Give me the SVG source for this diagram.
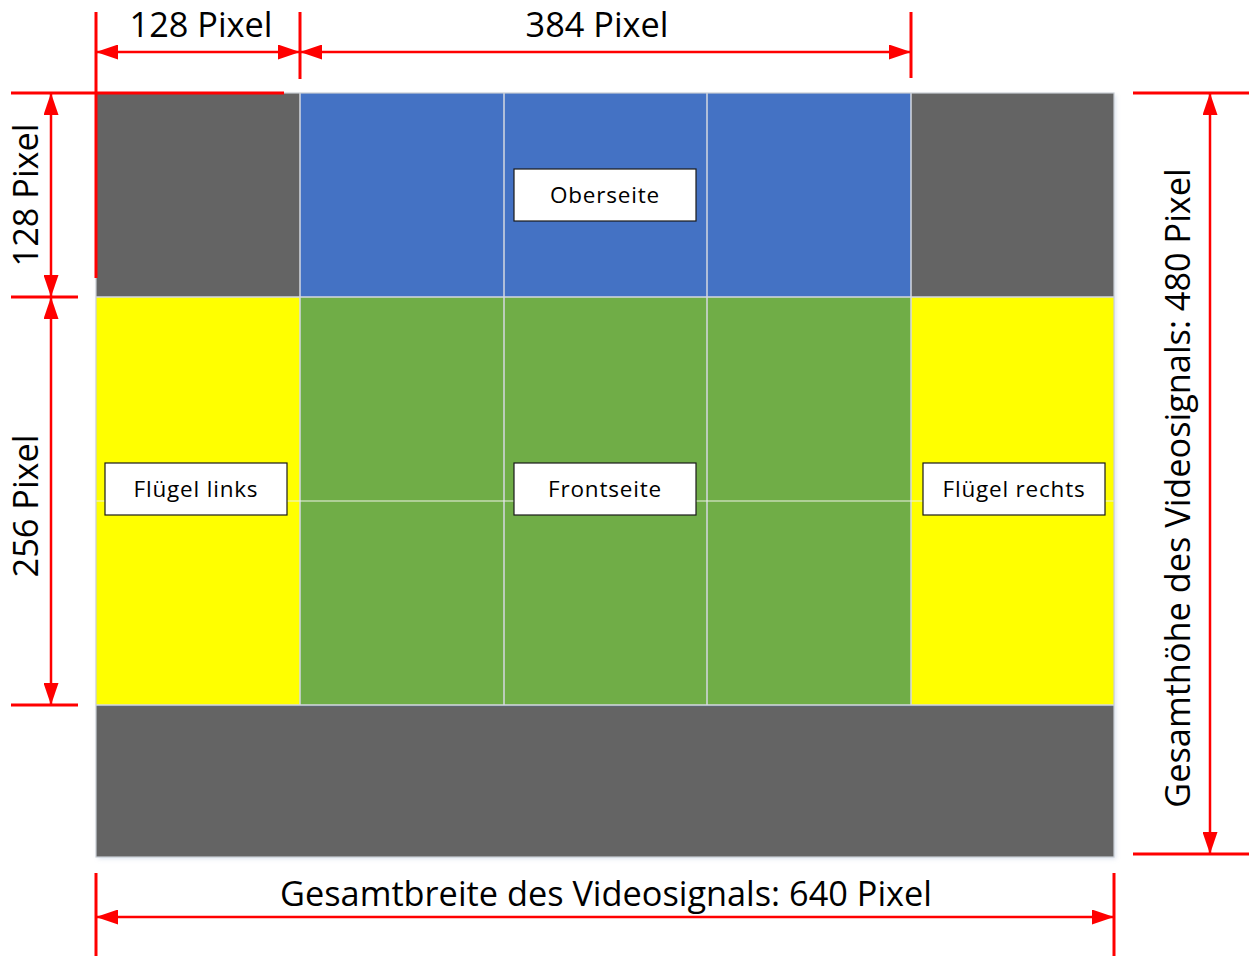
<svg xmlns="http://www.w3.org/2000/svg" width="1249" height="956" viewBox="0 0 1249 956">
<style>
.dim{stroke:#FF0000;stroke-width:2.5;fill:none}
.ext{stroke:#FF0000;stroke-width:3;fill:none}
.grid{stroke:#d4d9e0;stroke-width:1.5;fill:none}
.big{font-family:"Open Sans","Liberation Sans",sans-serif;font-size:34.3px;fill:#000}
.lbl{font-family:"Open Sans","Liberation Sans",sans-serif;font-size:22.5px;letter-spacing:0.8px;fill:#000;text-anchor:middle}
.box{fill:#fff;stroke:#1a1a1a;stroke-width:1.2}
</style>
<defs>
<marker id="ah" viewBox="0 0 22 15" refX="22" refY="7.5" markerWidth="22" markerHeight="15" markerUnits="userSpaceOnUse" orient="auto-start-reverse">
<path d="M0,0 L22,7.5 L0,15 z" fill="#FF0000"/>
</marker>
<filter id="sh" x="-5%" y="-5%" width="110%" height="110%">
<feDropShadow dx="2" dy="2" stdDeviation="2" flood-color="#9fb3d0" flood-opacity="0.35"/>
</filter>
</defs>
<rect width="1249" height="956" fill="#fff"/>

<g id="canvas" filter="url(#sh)">
<rect x="96" y="93" width="1018" height="764" fill="#646464"/>
</g>
<g id="corner-tl"><rect x="96" y="93" width="204" height="204" fill="#646464"/></g>
<g id="corner-tr"><rect x="911" y="93" width="203" height="204" fill="#646464"/></g>
<g id="oberseite">
<rect x="300" y="93" width="611" height="204" fill="#4472C4"/>
</g>
<g id="fluegel-links"><rect x="96" y="297" width="204" height="408" fill="#FFFF00"/></g>
<g id="frontseite"><rect x="300" y="297" width="611" height="408" fill="#70AD47"/></g>
<g id="fluegel-rechts"><rect x="911" y="297" width="203" height="408" fill="#FFFF00"/></g>
<g id="bottom-band"><rect x="96" y="705" width="1018" height="152" fill="#646464"/>
<line x1="96" y1="706" x2="1114" y2="706" stroke="#5e6774" stroke-width="2"/></g>

<g id="gridlines">
<line class="grid" x1="300" y1="93" x2="300" y2="705"/>
<line class="grid" x1="504" y1="93" x2="504" y2="705"/>
<line class="grid" x1="707" y1="93" x2="707" y2="705"/>
<line class="grid" x1="911" y1="93" x2="911" y2="705"/>
<line class="grid" x1="96" y1="297" x2="1114" y2="297"/>
<line x1="96" y1="501" x2="1114" y2="501" stroke="#eef2e8" stroke-width="1"/>
<line class="grid" x1="96" y1="705" x2="1114" y2="705"/>
<rect x="96" y="93" width="1018" height="764" fill="none" stroke="#c8cdd4" stroke-width="1.2"/>
</g>

<g id="label-oberseite"><rect class="box" x="514" y="169" width="182" height="52"/><text class="lbl" x="605" y="203">Oberseite</text></g>
<g id="label-fluegel-links"><rect class="box" x="105" y="463" width="182" height="52"/><text class="lbl" x="196" y="497">Flügel links</text></g>
<g id="label-frontseite"><rect class="box" x="514" y="463" width="182" height="52"/><text class="lbl" x="605" y="497">Frontseite</text></g>
<g id="label-fluegel-rechts"><rect class="box" x="923" y="463" width="182" height="52"/><text class="lbl" x="1014" y="497">Flügel rechts</text></g>

<g id="connectors">
<line class="ext" x1="96" y1="12" x2="96" y2="278"/>
<line class="ext" x1="300" y1="12" x2="300" y2="79"/>
<line class="ext" x1="911" y1="12" x2="911" y2="78"/>
<line class="ext" x1="11" y1="93" x2="284" y2="93"/>
<line class="ext" x1="11" y1="297" x2="78" y2="297"/>
<line class="ext" x1="11" y1="705" x2="78" y2="705"/>
<line class="ext" x1="1133" y1="93" x2="1249" y2="93"/>
<line class="ext" x1="1133" y1="854" x2="1249" y2="854"/>
<line class="ext" x1="96" y1="873" x2="96" y2="956"/>
<line class="ext" x1="1114" y1="873" x2="1114" y2="956"/>
<line class="dim" x1="96" y1="52" x2="300" y2="52" marker-start="url(#ah)" marker-end="url(#ah)"/>
<line class="dim" x1="300" y1="52" x2="911" y2="52" marker-start="url(#ah)" marker-end="url(#ah)"/>
<line class="dim" x1="51" y1="93" x2="51" y2="297" marker-start="url(#ah)" marker-end="url(#ah)"/>
<line class="dim" x1="51" y1="297" x2="51" y2="705" marker-start="url(#ah)" marker-end="url(#ah)"/>
<line class="dim" x1="1210" y1="93" x2="1210" y2="854" marker-start="url(#ah)" marker-end="url(#ah)"/>
<line class="dim" x1="96" y1="917" x2="1114" y2="917" marker-start="url(#ah)" marker-end="url(#ah)"/>
</g>

<g id="dimension-texts">
<text class="big" x="201" y="37" text-anchor="middle">128 Pixel</text>
<text class="big" x="597" y="37" text-anchor="middle">384 Pixel</text>
<text class="big" x="606" y="906" text-anchor="middle">Gesamtbreite des Videosignals: 640 Pixel</text>
<text class="big" transform="translate(38,195) rotate(-90)" text-anchor="middle">128 Pixel</text>
<text class="big" transform="translate(38,506) rotate(-90)" text-anchor="middle">256 Pixel</text>
<text class="big" transform="translate(1190,488) rotate(-90)" text-anchor="middle">Gesamthöhe des Videosignals: 480 Pixel</text>
</g>
</svg>
